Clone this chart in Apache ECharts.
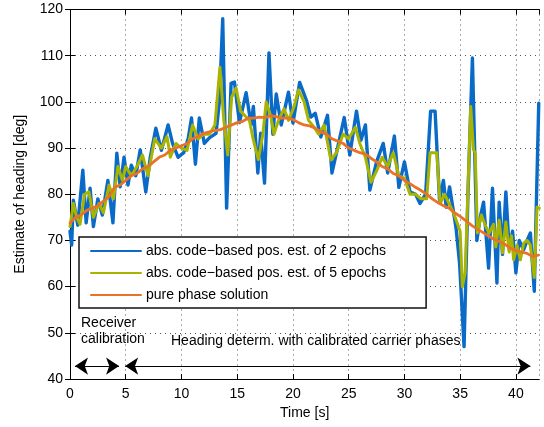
<!DOCTYPE html>
<html><head><meta charset="utf-8">
<script src="https://cdn.jsdelivr.net/npm/echarts@6/dist/echarts.min.js"></script>
<style>html,body{margin:0;padding:0;background:#fff}#c{width:544px;height:427px}</style>
</head><body><div id="c"></div>
<script>
const seriesNames = ['abs. code\u2212based pos. est. of 2 epochs', 'abs. code\u2212based pos. est. of 5 epochs', 'pure phase solution'];
const xMin = 0, xMax = 42.1, xStep = 5;
const yMin = 40, yMax = 120, yStep = 10;

const blue = [[0,72],[0.15,69],[0.3,78.7],[0.7,73.3],[1.15,85.2],[1.45,73.8],[1.8,81.3],[2.1,73],[2.5,79],[2.9,75.5],[3.4,83],[3.85,73.8],[4.2,88.9],[4.5,81.6],[4.85,88],[5.2,82],[5.5,86.3],[5.9,84],[6.3,89.6],[6.8,80.5],[7.2,88],[7.7,94.3],[8.2,89.5],[8.8,95],[9.2,91],[9.7,88],[10.2,89],[10.6,92],[10.9,96.5],[11.25,86.5],[11.6,96.5],[12.05,91],[12.5,92.2],[13.1,93.2],[13.4,100],[13.7,118],[14.05,77],[14.45,104],[14.75,104.3],[15.2,95.5],[15.8,102],[16.25,95],[16.45,99],[16.85,84.6],[17.1,93.2],[17.45,82.4],[17.85,110.6],[18.2,93],[18.5,101.7],[18.95,95],[19.6,102.1],[20,95.4],[20.6,104.2],[21.2,100.4],[21.6,96.7],[22,97.5],[22.5,92.4],[23.1,97.1],[23.5,84.6],[24,90],[24.6,96.6],[25.1,88.5],[25.7,98],[26.1,91.7],[26.5,95],[26.9,80.9],[27.5,87],[28.1,91],[28.5,84.6],[29.1,92.6],[29.5,81.5],[30,87],[30.5,80.5],[31,80],[31.4,78],[31.9,80],[32.35,98],[32.75,98],[33.15,78.7],[33.5,83],[33.75,77.2],[34.05,81.6],[34.35,77],[34.65,72.3],[34.95,65],[35.35,47],[35.7,80],[36.1,109.5],[36.5,70],[36.8,75],[37.1,78.3],[37.55,64],[37.9,81.3],[38.3,60.8],[38.5,78.3],[38.8,67],[39.1,80.5],[39.4,68],[39.7,72],[40,63],[40.3,70],[40.7,68],[41,70],[41.3,71.6],[41.65,59],[42.05,99.7]];

const green = [[0,73],[0.3,78],[0.6,75],[0.9,73.5],[1.3,80],[1.7,80.5],[2.1,75],[2.6,78],[3.0,76],[3.5,82],[3.9,79],[4.3,86],[4.7,83],[5.0,86],[5.5,84],[6.0,86],[6.5,88.5],[7.0,84],[7.6,92],[8.2,90],[8.7,92.5],[9.0,88],[9.5,91],[10,90],[10.5,89.5],[11,95],[11.5,92],[12,93],[12.5,93],[13,95],[13.45,107.5],[13.8,96],[14.15,88.5],[14.5,101],[14.9,103],[15.3,98],[15.7,97],[16.1,96],[16.45,91.7],[16.9,87.5],[17.3,93],[17.6,100],[18,97],[18.3,93],[18.7,96],[19.2,98.5],[19.6,96],[20.1,99],[20.5,102.6],[21,100],[21.4,96],[21.9,94.5],[22.3,93],[22.8,95],[23.4,87.4],[23.9,89],[24.5,93],[25,92],[25.6,94.5],[26,91],[26.5,88],[27,82.6],[27.5,85],[28,88],[28.5,86],[29,89],[29.5,84],[30,83.5],[30.5,80],[31,80],[31.5,79],[32,79],[32.3,89],[32.9,89],[33.2,78],[33.6,80],[34,78],[34.4,76],[34.7,74],[35.0,72],[35.2,60],[35.45,63],[35.95,99],[36.2,89.6],[36.35,89],[36.55,71.6],[36.9,75.5],[37.3,73],[37.6,71.6],[38,73.5],[38.2,68.6],[38.5,74.4],[38.8,67.3],[39.1,74],[39.4,67.5],[39.6,71],[39.8,65.8],[40.1,69],[40.4,65.8],[40.7,69.4],[41,70],[41.3,69],[41.65,62],[41.9,77.2],[42.1,77]];

const orange = [[0,73.8],[0.5,75],[1,75.5],[1.5,76.5],[2,77],[2.5,77.5],[3,78.5],[3.5,79.5],[4,81.5],[4.5,82],[5,83],[5.5,84],[6,84.5],[6.5,85.5],[7,86],[7.5,87],[8,88],[8.5,88.5],[9,89.5],[9.5,90],[10,90.5],[10.5,91],[11,92],[11.5,92.5],[12,93.2],[12.5,93.5],[13,93.8],[13.5,94],[14,94.5],[14.5,95],[15,95.5],[15.5,95.8],[16,96.5],[16.5,96.5],[17,96.7],[17.5,96.6],[18,97],[18.5,96.8],[19,96.5],[19.5,96.5],[20,96.2],[20.5,95.5],[21,95],[21.5,94.8],[22,94.3],[22.5,93.5],[23,93],[23.5,92],[24,91.5],[24.5,91],[25,90],[25.5,89.5],[26,89],[26.5,88.7],[27,87.8],[27.5,87],[28,86],[28.5,85.5],[29,84.5],[29.5,84],[30,83],[30.5,82.3],[31,81.5],[31.5,80.8],[32,80],[32.5,79],[33,78.2],[33.5,77.5],[34,77],[34.5,76],[35,75.2],[35.5,74.3],[36,73.3],[36.5,72.5],[37,71.8],[37.5,71],[38,70.3],[38.5,69.8],[39,69.2],[39.5,68.3],[40,67.8],[40.5,67.5],[41,67.2],[41.5,66.5],[42,66.8]];

// arrows (time span annotations) and texts
const arrowY = 42.8;
const calibArrow = [0.45, 4.4];
const headingArrow = [4.95, 41.3];
const textCalib = ['Receiver', 'calibration'];
const textHeading = 'Heading determ. with calibrated carrier phases';

const colors = ['#0a6ac8', '#a9b400', '#ea7228'];
const FONT = '"Liberation Sans", Arial, Helvetica, sans-serif';

const chart = echarts.init(document.getElementById('c'), null, {renderer: 'canvas'});
const gridLine = {show: true, lineStyle: {color: '#555', width: 1, type: [1, 4]}};
const axisLine = {show: true, lineStyle: {color: '#000', width: 1}};
const tick = {show: true, inside: true, length: 5, lineStyle: {color: '#000'}};

chart.setOption({
  animation: false,
  backgroundColor: '#fff',
  textStyle: {fontFamily: FONT},
  grid: {left: 70, right: 4.7, top: 9.5, bottom: 48, containLabel: false},
  xAxis: [{
    type: 'value', min: xMin, max: xMax, interval: xStep,
    name: 'Time [s]', nameLocation: 'middle', nameGap: 24,
    nameTextStyle: {fontSize: 14, color: '#000', fontFamily: FONT},
    axisLine: axisLine, axisTick: tick, splitLine: gridLine,
    axisLabel: {fontSize: 14, color: '#000', margin: 8, fontFamily: FONT, showMaxLabel: false}
  }, {
    type: 'value', position: 'top', min: xMin, max: xMax, interval: xStep,
    axisLine: axisLine, axisTick: tick, splitLine: {show: false}, axisLabel: {show: false}
  }],
  yAxis: [{
    type: 'value', min: yMin, max: yMax, interval: yStep,
    name: 'Estimate of heading [deg]', nameLocation: 'middle', nameGap: 43,
    nameTextStyle: {fontSize: 14, color: '#000', fontFamily: FONT},
    axisLine: axisLine, axisTick: tick, splitLine: gridLine,
    axisLabel: {fontSize: 14, color: '#000', margin: 7, fontFamily: FONT}
  }, {
    type: 'value', position: 'right', min: yMin, max: yMax, interval: yStep,
    axisLine: axisLine, axisTick: tick, splitLine: {show: false}, axisLabel: {show: false}
  }],
  legend: {
    orient: 'vertical', left: 79, top: 237,
    data: seriesNames,
    backgroundColor: '#fff', borderColor: '#111', borderWidth: 1.5,
    padding: [7, 40, 6, 11], itemWidth: 50, itemHeight: 14, itemGap: 8,
    textStyle: {fontSize: 14, color: '#000', fontFamily: FONT, padding: [0, 0, 0, 0]},
    itemStyle: {opacity: 0}
  },
  series: [
    {name: seriesNames[0], type: 'line', data: blue, symbol: 'none', color: colors[0],
     lineStyle: {width: 3.4, color: colors[0], join: 'round', cap: 'round'}, z: 2},
    {name: seriesNames[1], type: 'line', data: green, symbol: 'none', color: colors[1],
     lineStyle: {width: 3, color: colors[1], join: 'round', cap: 'round'}, z: 3},
    {name: seriesNames[2], type: 'line', data: orange, symbol: 'none', color: colors[2],
     lineStyle: {width: 2.8, color: colors[2], join: 'round', cap: 'round'}, z: 4,
     markLine: {
       silent: true, symbol: ['arrow', 'arrow'], symbolSize: 13, precision: 3,
       label: {show: false},
       lineStyle: {color: '#000', width: 1, type: 'solid'},
       emphasis: {disabled: true},
       data: [
         [{coord: [calibArrow[0], arrowY]}, {coord: [calibArrow[1], arrowY]}],
         [{coord: [headingArrow[0], arrowY]}, {coord: [headingArrow[1], arrowY]}]
       ]
     }}
  ],
  graphic: [
    {type: 'text', left: 81, top: 316, style: {text: textCalib[0], font: '14px ' + FONT, fill: '#000'}, z: 10},
    {type: 'text', left: 81, top: 332, style: {text: textCalib[1], font: '14px ' + FONT, fill: '#000'}, z: 10},
    {type: 'text', left: 171, top: 334, style: {text: textHeading, font: '14px ' + FONT, fill: '#000'}, z: 10}
  ]
});
</script></body></html>
